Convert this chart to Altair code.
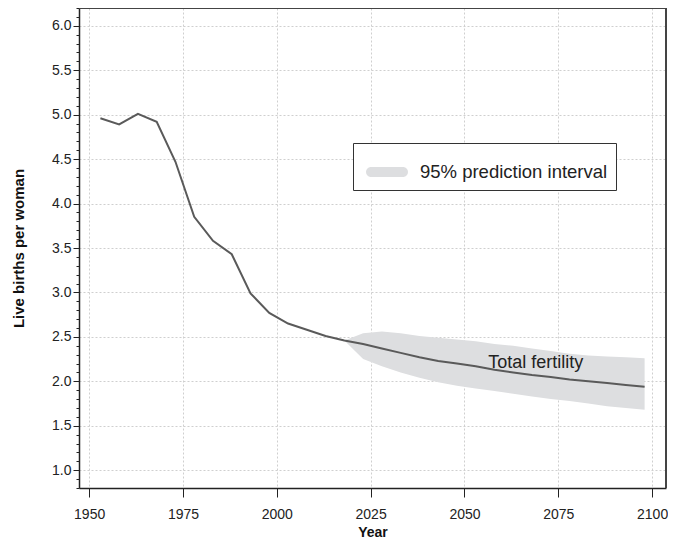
import altair as alt
import pandas as pd

# Historical total fertility (estimates)
hist_years = [1953, 1958, 1963, 1968, 1973, 1978, 1983, 1988, 1993, 1998, 2003, 2008, 2013]
hist_tfr = [4.96, 4.89, 5.01, 4.92, 4.47, 3.85, 3.58, 3.43, 2.99, 2.77, 2.65, 2.58, 2.51]

# Projections (median and 95% prediction interval)
proj_years = [2018, 2023, 2028, 2033, 2038, 2043, 2048, 2053, 2058, 2063, 2068, 2073, 2078, 2083, 2088, 2093, 2098]
proj_median = [2.46, 2.42, 2.37, 2.32, 2.27, 2.23, 2.20, 2.17, 2.13, 2.10, 2.07, 2.05, 2.02, 2.00, 1.98, 1.96, 1.94]
proj_lower = [2.46, 2.25, 2.17, 2.10, 2.04, 1.99, 1.95, 1.92, 1.89, 1.86, 1.83, 1.80, 1.78, 1.75, 1.72, 1.70, 1.68]
proj_upper = [2.46, 2.54, 2.56, 2.54, 2.51, 2.49, 2.47, 2.45, 2.42, 2.40, 2.37, 2.34, 2.31, 2.29, 2.28, 2.27, 2.26]

band_label = "95% prediction interval"
series_label = ["Total fertility"]
series_label_year = [2069]
series_label_value = [2.21]

x_ticks = [1950, 1975, 2000, 2025, 2050, 2075, 2100]
y_major = [1.0, 1.5, 2.0, 2.5, 3.0, 3.5, 4.0, 4.5, 5.0, 5.5, 6.0]
y_minor = [round(0.8 + 0.1 * i, 1) for i in range(55)]

X_MIN, X_MAX = 1947.3, 2103.7
Y_MIN, Y_MAX = 0.8, 6.2

FONT = "Liberation Sans"
BAND = "#dddee0"
LINE = "#5a5a5a"
FRAME = "#444"

line_df = pd.DataFrame({"year": hist_years + proj_years, "tfr": hist_tfr + proj_median})
band_df = pd.DataFrame({"year": proj_years, "lo": proj_lower, "hi": proj_upper,
                        "band": [band_label] * len(proj_years)})
label_df = pd.DataFrame({"year": series_label_year, "tfr": series_label_value, "text": series_label})

xscale = alt.Scale(domain=[X_MIN, X_MAX], nice=False, zero=False)
yscale = alt.Scale(domain=[Y_MIN, Y_MAX], nice=False, zero=False)

x_axis = alt.Axis(values=x_ticks, format="d", title="Year", tickSize=9, labelPadding=10,
                  labelFontSize=14, labelFont=FONT, labelColor="#222",
                  titleFont=FONT, titleFontSize=14, titleFontWeight="bold", titleColor="#111",
                  titlePadding=4, domainColor="#222", domainWidth=1.5, tickColor="#222",
                  gridColor="#cfcfcf", gridDash=[2, 2], labelFlush=False, labelOverlap=False)

y_axis = alt.Axis(values=y_major, format=".1f", title="Live births per woman",
                  tickSize=6, labelPadding=2, labelFontSize=14, labelFont=FONT, labelColor="#222",
                  titleFont=FONT, titleFontSize=15, titleFontWeight="bold", titleColor="#111",
                  titlePadding=25, domainColor="#222", domainWidth=1.5, tickColor="#222",
                  gridColor="#cfcfcf", gridDash=[2, 2], labelFlush=False, labelOverlap=False)

y_minor_axis = alt.Axis(values=y_minor, orient="left", labels=False, domain=False, grid=False,
                        title=None, tickSize=3, tickColor="#222")

capsule = "M-0.76,-0.238 L0.76,-0.238 A0.238,0.238 0 0 1 0.76,0.238 L-0.76,0.238 A0.238,0.238 0 0 1 -0.76,-0.238 Z"

band = alt.Chart(band_df).mark_area(opacity=1).encode(
    x=alt.X("year:Q", scale=xscale, axis=x_axis),
    y=alt.Y("lo:Q", scale=yscale, axis=y_axis),
    y2="hi:Q",
    color=alt.Color("band:N", scale=alt.Scale(range=[BAND]),
                    legend=alt.Legend(title=None, orient="none", legendX=274, legendY=135,
                                      strokeColor="#333", fillColor="white", padding=8,
                                      symbolType=capsule, symbolSize=1764, symbolStrokeWidth=0,
                                      symbolOffset=5, symbolOpacity=1, labelFontSize=18.5,
                                      labelFont=FONT, labelColor="#222", labelLimit=400,
                                      labelOffset=12)),
)

line = alt.Chart(line_df).mark_line(color=LINE, strokeWidth=2).encode(
    x=alt.X("year:Q", scale=xscale, axis=x_axis),
    y=alt.Y("tfr:Q", scale=yscale, axis=y_axis),
)

label = alt.Chart(label_df).mark_text(font=FONT, fontSize=18, color="#222",
                                      align="center", baseline="middle").encode(
    x=alt.X("year:Q", scale=xscale, axis=x_axis),
    y=alt.Y("tfr:Q", scale=yscale, axis=y_axis),
    text="text:N",
)

# frame: top and right borders of the plot area
top_border = alt.Chart(band_df).mark_rule(color=FRAME, strokeWidth=1.5).encode(
    x=alt.datum(X_MIN, scale=xscale, axis=x_axis), x2=alt.datum(X_MAX),
    y=alt.datum(Y_MAX, scale=yscale, axis=y_axis),
)
right_border = alt.Chart(band_df).mark_rule(color=FRAME, strokeWidth=1.5).encode(
    x=alt.datum(X_MAX, scale=xscale, axis=x_axis),
    y=alt.datum(Y_MIN, scale=yscale, axis=y_axis), y2=alt.datum(Y_MAX),
)

main = alt.layer(band, line, label, top_border, right_border)

minor = alt.Chart(line_df).mark_point(opacity=0).encode(
    x=alt.X("year:Q", scale=xscale, axis=x_axis),
    y=alt.Y("tfr:Q", scale=yscale, axis=y_minor_axis),
)

chart = alt.layer(main, minor).resolve_scale(y="independent").properties(
    width=587, height=480,
    background="white",
    autosize=alt.AutoSizeParams(type="none"),
    padding={"left": 71, "top": 0, "right": 2, "bottom": 50},
).configure_view(stroke=None)

chart.save("out.html", embed_options={"renderer": "svg", "actions": False})
